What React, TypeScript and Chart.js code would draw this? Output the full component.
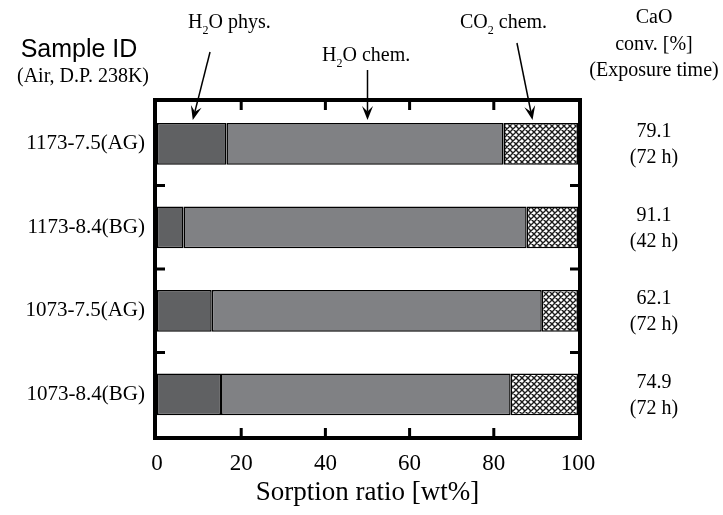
import React, { useEffect, useRef } from "react";
import { Chart, registerables } from "chart.js";

Chart.register(...registerables);

const categories = ["1173-7.5(AG)", "1173-8.4(BG)", "1073-7.5(AG)", "1073-8.4(BG)"];
const h2oPhys = [16.5, 6.3, 13.0, 15.2];
const h2oChem = [65.8, 81.5, 78.4, 68.8];
const co2Chem = [17.7, 12.2, 8.6, 16.0];
const caoConv = ["79.1", "91.1", "62.1", "74.9"];
const exposureTime = ["(72 h)", "(42 h)", "(72 h)", "(72 h)"];
const xTickValues = [0, 20, 40, 60, 80, 100];

const SERIF = "'Liberation Serif', 'Times New Roman', serif";
const SANS = "'Liberation Sans', Arial, sans-serif";

function makeHatch(): CanvasPattern | string {
  const c = document.createElement("canvas");
  c.width = 6;
  c.height = 6;
  const g = c.getContext("2d");
  if (!g) return "#aaa";
  g.fillStyle = "#ffffff";
  g.fillRect(0, 0, 6, 6);
  g.strokeStyle = "#1a1a1a";
  g.lineWidth = 1.4;
  g.beginPath();
  g.moveTo(-1, -1); g.lineTo(7, 7);
  g.moveTo(-1, 5); g.lineTo(1, 7);
  g.moveTo(5, -1); g.lineTo(7, 1);
  g.moveTo(7, -1); g.lineTo(-1, 7);
  g.moveTo(1, -1); g.lineTo(-1, 1);
  g.moveTo(7, 5); g.lineTo(5, 7);
  g.stroke();
  const p = g.createPattern(c, "repeat");
  return p || "#aaa";
}

function drawSubText(ctx: CanvasRenderingContext2D, x: number, y: number, pre: string, sub: string, post: string, size: number) {
  ctx.save();
  ctx.textBaseline = "alphabetic";
  ctx.textAlign = "left";
  ctx.fillStyle = "#000";
  ctx.font = `${size}px ${SERIF}`;
  ctx.fillText(pre, x, y);
  let cx = x + ctx.measureText(pre).width;
  ctx.font = `${Math.round(size * 0.6)}px ${SERIF}`;
  ctx.fillText(sub, cx, y + size * 0.3);
  cx += ctx.measureText(sub).width;
  ctx.font = `${size}px ${SERIF}`;
  ctx.fillText(post, cx, y);
  ctx.restore();
}

function drawArrow(ctx: CanvasRenderingContext2D, x1: number, y1: number, x2: number, y2: number) {
  const dx = x2 - x1, dy = y2 - y1;
  const len = Math.hypot(dx, dy);
  const ux = dx / len, uy = dy / len;
  const nx = -uy, ny = ux;
  const L = 14, W = 5.5;
  ctx.save();
  ctx.strokeStyle = "#000";
  ctx.fillStyle = "#000";
  ctx.lineWidth = 1.5;
  ctx.beginPath();
  ctx.moveTo(x1, y1);
  ctx.lineTo(x2 - ux * L * 0.6, y2 - uy * L * 0.6);
  ctx.stroke();
  ctx.beginPath();
  ctx.moveTo(x2, y2);
  ctx.lineTo(x2 - ux * L + nx * W, y2 - uy * L + ny * W);
  ctx.lineTo(x2 - ux * L * 0.6, y2 - uy * L * 0.6);
  ctx.lineTo(x2 - ux * L - nx * W, y2 - uy * L - ny * W);
  ctx.closePath();
  ctx.fill();
  ctx.restore();
}

const decorPlugin = {
  id: "decor",
  afterDraw(chart: any) {
    const ctx: CanvasRenderingContext2D = chart.ctx;
    const { left, right, top, bottom } = chart.chartArea;
    const xs = chart.scales.x;
    const ys = chart.scales.y;
    ctx.save();
    // frame
    ctx.strokeStyle = "#000";
    ctx.lineWidth = 4;
    ctx.strokeRect(left - 2, top - 2, right - left + 4, bottom - top + 4);
    // x ticks inward
    ctx.lineWidth = 3;
    ctx.beginPath();
    xTickValues.forEach((v) => {
      if (v === 0 || v === 100) return;
      const px = xs.getPixelForValue(v);
      ctx.moveTo(px, top);
      ctx.lineTo(px, top + 8);
      ctx.moveTo(px, bottom);
      ctx.lineTo(px, bottom - 8);
    });
    // y boundary ticks inward
    for (let i = 0; i < categories.length - 1; i++) {
      const py = (ys.getPixelForValue(i) + ys.getPixelForValue(i + 1)) / 2;
      ctx.moveTo(left, py);
      ctx.lineTo(left + 8, py);
      ctx.moveTo(right, py);
      ctx.lineTo(right - 8, py);
    }
    ctx.stroke();

    // right column
    ctx.fillStyle = "#000";
    ctx.textAlign = "center";
    ctx.textBaseline = "middle";
    ctx.font = `20px ${SERIF}`;
    const rx = 654;
    ctx.fillText("CaO", rx, 18);
    ctx.fillText("conv. [%]", rx, 45);
    ctx.fillText("(Exposure time)", rx, 71);
    categories.forEach((_, i) => {
      const cy = ys.getPixelForValue(i);
      ctx.fillText(caoConv[i], rx, cy - 12);
      ctx.fillText(exposureTime[i], rx, cy + 14);
    });

    // left header
    ctx.font = `25px ${SANS}`;
    ctx.fillText("Sample ID", 79, 50);
    ctx.font = `20px ${SERIF}`;
    ctx.fillText("(Air, D.P. 238K)", 83, 77);

    // annotations
    drawSubText(ctx, 188, 28, "H", "2", "O phys.", 20);
    drawSubText(ctx, 322, 61, "H", "2", "O chem.", 20);
    drawSubText(ctx, 460, 28, "CO", "2", " chem.", 20);
    const tipY = top + 18;
    drawArrow(ctx, xs.getPixelForValue(12.6), 52, xs.getPixelForValue(8.5), tipY);
    drawArrow(ctx, xs.getPixelForValue(50), 70, xs.getPixelForValue(50), tipY);
    drawArrow(ctx, xs.getPixelForValue(85.5), 43, xs.getPixelForValue(89.2), tipY);
    ctx.restore();
  },
};

export default function App() {
  const ref = useRef<HTMLCanvasElement | null>(null);
  useEffect(() => {
    if (!ref.current) return;
    document.body.style.margin = "0";
    const hatch = makeHatch();
    const common = {
      borderColor: "#000",
      borderWidth: 1.5,
      borderSkipped: false,
      barPercentage: 0.5,
      categoryPercentage: 1,
    };
    const chart = new Chart(ref.current, {
      type: "bar",
      data: {
        labels: categories,
        datasets: [
          { label: "H2O phys.", data: h2oPhys, backgroundColor: "#606163", ...common },
          { label: "H2O chem.", data: h2oChem, backgroundColor: "#808184", ...common },
          { label: "CO2 chem.", data: co2Chem, backgroundColor: hatch as any, ...common },
        ],
      } as any,
      options: {
        indexAxis: "y",
        responsive: false,
        animation: false,
        events: [],
        layout: { padding: { left: 0, top: 102, right: 145, bottom: 0 } },
        plugins: { legend: { display: false }, tooltip: { enabled: false } },
        scales: {
          x: {
            type: "linear",
            stacked: true,
            min: 0,
            max: 100,
            afterFit: (s: any) => { s.height = 79; },
            afterBuildTicks: (s: any) => { s.ticks = xTickValues.map((v) => ({ value: v })); },
            grid: { display: false, drawTicks: false },
            border: { display: false },
            ticks: { color: "#000", padding: 14, font: { family: SERIF, size: 23 } },
            title: {
              display: true,
              text: "Sorption ratio [wt%]",
              color: "#000",
              font: { family: SERIF, size: 27 },
              padding: { top: 0, bottom: 6 },
            },
          },
          y: {
            type: "category",
            stacked: true,
            offset: true,
            afterFit: (s: any) => { s.width = 157; },
            grid: { display: false, drawTicks: false },
            border: { display: false },
            ticks: { color: "#000", padding: 12, font: { family: SERIF, size: 21 } },
          },
        },
      } as any,
      plugins: [decorPlugin],
    });
    return () => chart.destroy();
  }, []);
  return (
    <div style={{ position: "absolute", left: 0, top: 0, width: 723, height: 515, background: "#fff" }}>
      <canvas ref={ref} width={723} height={515} />
    </div>
  );
}
